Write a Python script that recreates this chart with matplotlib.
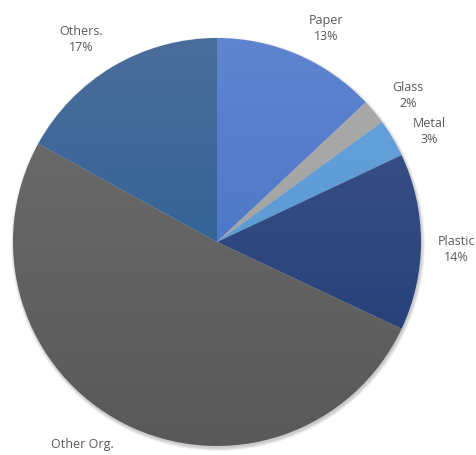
import numpy as np
import matplotlib.pyplot as plt
from matplotlib.colors import LinearSegmentedColormap

# Waste composition (%)
categories = ["Paper", "Glass", "Metal", "Plastic", "Other Org.", "Others."]
shares = [13, 2, 3, 14, 51, 17]

# top / bottom colours of the gradient fill of each slice
top_colors = ["#5f85d0", "#ababab", "#66a2da", "#3f5589", "#6e6e6e", "#4b6d9b"]
bottom_colors = ["#3e6bc0", "#9e9e9e", "#5693cf", "#1e3b76", "#595959", "#1f5a91"]

# nudges (pixels, x right / y up) for the data labels
label_nudge = [(14, -5), (7, -5), (7, -10), (1, -7), (-26, 3), (-14, -2)]

W, H = 476, 456
cx, cy, r = 217, H - 243, 204

fig = plt.figure(figsize=(W / 100, H / 100), dpi=100)
ax = fig.add_axes([0, 0, 1, 1])
ax.axis("off")

# soft shadow behind the pie
for k in range(6):
    shadow = plt.Circle((cx + 1, cy - 2), r + 3 - k * 0.6, color="black",
                        alpha=0.035, lw=0, zorder=0)
    ax.add_patch(shadow)

labels = [f"{c}\n{s}%" for c, s in zip(categories, shares)]
wedges, texts = ax.pie(shares, labels=labels, startangle=90, counterclock=False,
                       center=(cx, cy), radius=r, labeldistance=1.17,
                       wedgeprops=dict(linewidth=0),
                       textprops=dict(fontsize=9, color="#595959",
                                      family="Open Sans", linespacing=1.3))
for t, (dx, dy) in zip(texts, label_nudge):
    x, y = t.get_position()
    t.set_position((x + dx, y + dy))
    t.set_ha("center")
    t.set_va("center")

grad = np.linspace(0, 1, 256).reshape(-1, 1)
for w, c0, c1 in zip(wedges, top_colors, bottom_colors):
    w.set_facecolor("none")
    cmap = LinearSegmentedColormap.from_list("g", [c0, c1])
    im = ax.imshow(grad, cmap=cmap, extent=(cx - r, cx + r, cy - r, cy + r),
                   origin="upper", aspect="auto", zorder=1)
    im.set_clip_path(w)

ax.set_xlim(0, W)
ax.set_ylim(0, H)
ax.set_aspect("equal")

fig.savefig("out.png", dpi=100)
